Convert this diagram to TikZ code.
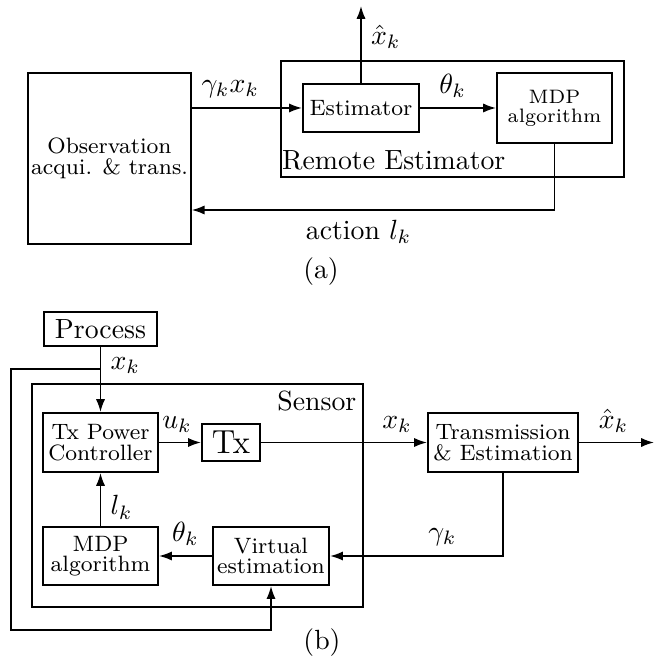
\documentclass[tikz,border=0pt]{standalone}
\usepackage{amsmath}
\usetikzlibrary{arrows.meta}

\tikzset{blk/.style={draw,rectangle,line width=0.75pt,inner sep=1pt,align=center,
  font=\fontsize{8}{7.4}\selectfont},
  arr/.style={-{Latex[length=4.6pt,width=3.3pt]}}}

\begin{document}
\begin{tikzpicture}[semithick,x=0.36pt,y=-0.36pt]
\useasboundingbox (0,0) rectangle (654,660);
% (a)
\node[blk,minimum width=55.8pt,minimum height=61.6pt] (Obs) at (109.5,158.5)
  {Observation\\acqui. \& trans.};
\node[draw,line width=0.75pt,minimum width=123.5pt,minimum height=41.8pt] (Rem)
  at (452.5,119) {};
\node[anchor=south west,inner xsep=0.5pt,inner ysep=2.5pt] (RemL) at (Rem.south west)
  {Remote Estimator};
\node[blk,minimum width=41.8pt,minimum height=17.3pt] (Est) at (361,108) {Estimator};
\node[blk,minimum width=41.4pt,minimum height=25.2pt,font=\fontsize{7}{6.8}\selectfont]
  (MDPa) at (554.5,108) {MDP\\algorithm};
\coordinate (Xa) at (361,6);
\coordinate (Ca) at (554.5,210);
\draw[arr](Est.west -| Obs.east)--node[above,pos=0.35]{$\gamma_k x_k$}(Est.west);
\draw[arr](Est)--node[above,pos=0.43]{$\theta_k$}(MDPa);
\draw[arr](Est)--node[right,pos=0.6]{$\hat{x}_k$}(Xa);
\draw[arr](MDPa.south)|-node[below,pos=0.77]{action $l_k$}(Ca -| Obs.east);
\node (CapA) at (321,272) {(a)};
% (b)
\node[blk,minimum width=41pt,minimum height=12.2pt,font=\normalsize] (Proc) at (100.5,329)
  {Process};
\node[draw,line width=0.75pt,minimum width=119.2pt,minimum height=80.3pt] (Sen)
  at (197.5,495.5) {};
\node[anchor=north east,inner sep=2.5pt] (SenL) at (Sen.north east) {Sensor};
\node[blk,minimum width=41.4pt,minimum height=21.2pt] (TxPC) at (100.5,442.5)
  {Tx Power\\Controller};
\node[blk,minimum width=20.9pt,minimum height=13.3pt,font=\large] (Tx) at (231,442.5) {Tx};
\node[blk,minimum width=54pt,minimum height=21.2pt] (Trans) at (503,442.5)
  {Transmission\\\& Estimation};
\node[blk,minimum width=41.4pt,minimum height=20.9pt] (MDPb) at (100.5,556)
  {MDP\\algorithm};
\node[blk,minimum width=41.8pt,minimum height=20.9pt] (Virt) at (271,556)
  {Virtual\\estimation};
\coordinate (Xb) at (654,442.5);
\coordinate (Br) at (100.5,369);
\coordinate (Lo) at (11,630);
\draw[arr](Proc)--node[right,pos=0.28]{$x_k$}(TxPC);
\draw[arr](Br)-|(Lo)-|(Virt.south);
\draw[arr](TxPC)--node[above,pos=0.43]{$u_k$}(Tx);
\draw[arr](Tx)--node[above,pos=0.82]{$x_k$}(Trans);
\draw[arr](Trans)--node[above,pos=0.46]{$\hat{x}_k$}(Xb);
\draw[arr](Trans.south)|-node[above,pos=0.675]{$\gamma_k$}(Virt.east);
\draw[arr](Virt)--node[above]{$\theta_k$}(MDPb);
\draw[arr](MDPb)--node[right,pos=0.35]{$l_k$}(TxPC);
\node (CapB) at (322,643) {(b)};
\end{tikzpicture}
\end{document}
